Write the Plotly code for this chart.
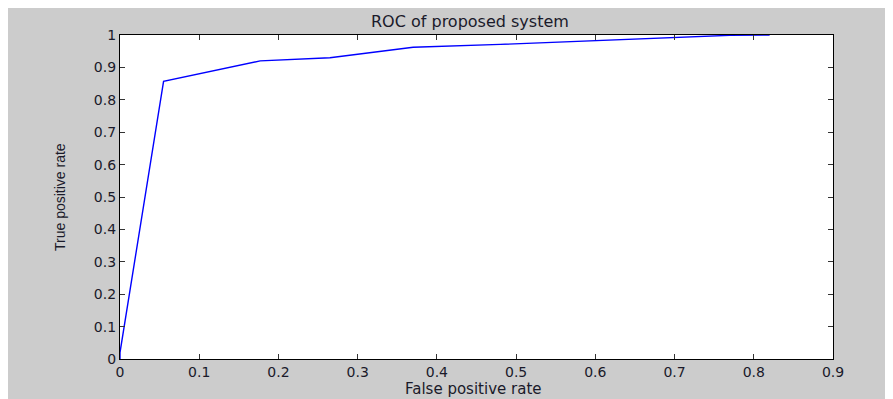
import plotly.graph_objects as go

fpr = [0, 0.0, 0.055, 0.177, 0.265, 0.37, 0.48, 0.55, 0.62, 0.70, 0.77, 0.82]
tpr = [0, 0.02, 0.857, 0.92, 0.93, 0.962, 0.971, 0.978, 0.985, 0.991, 0.999, 1.0]

title_text = "ROC of proposed system"
x_label = "False positive rate"
y_label = "True positive rate"

OFF = 8  # page body margin
W, H = 893 - OFF, 399 - OFF
# plot area in page pixels: x 120..833, y 35..359
L, R, T, B = 120 - OFF, 893 - 833, 35 - OFF, 399 - 359
pw, ph = W - L - R, H - T - B

def px_x(p):
    return (p - OFF - L) / pw

def px_y(p):
    return (H + OFF - B - p) / ph

fig = go.Figure()
fig.add_trace(go.Scatter(x=fpr, y=tpr, mode="lines",
                         line=dict(color="#0000FF", width=1.4),
                         showlegend=False, hoverinfo="skip"))

font_tick = dict(family="DejaVu Sans", size=14, color="#1a1a2a")
axis_common = dict(showgrid=False, zeroline=False, showline=True, linecolor="#000000",
                   linewidth=1.2, mirror="ticks", ticks="inside", ticklen=5,
                   tickcolor="#333333", tickwidth=1, tickfont=font_tick)

fig.update_layout(
    width=W, height=H,
    margin=dict(l=L, r=R, t=T, b=B, pad=0),
    paper_bgcolor="#CCCCCC", plot_bgcolor="#FFFFFF",
    xaxis=dict(range=[0, 0.9], dtick=0.1, tick0=0, ticklabelstandoff=0, **axis_common),
    yaxis=dict(range=[0, 1], dtick=0.1, tick0=0, **axis_common),
    annotations=[
        dict(text=title_text, xref="paper", yref="paper", x=px_x(470), y=px_y(21),
             xanchor="center", yanchor="middle", showarrow=False,
             font=dict(family="DejaVu Sans", size=16, color="#1a1a2a")),
        dict(text=x_label, xref="paper", yref="paper", x=px_x(473), y=px_y(389),
             xanchor="center", yanchor="middle", showarrow=False,
             font=dict(family="DejaVu Sans", size=15, color="#1a1a2a")),
        dict(text=y_label, xref="paper", yref="paper", x=px_x(60), y=px_y(197),
             xanchor="center", yanchor="middle", showarrow=False, textangle=-90,
             font=dict(family="Liberation Sans Narrow, Liberation Sans", size=14, color="#1a1a2a")),
    ],
)

fig.write_html("out.html")
